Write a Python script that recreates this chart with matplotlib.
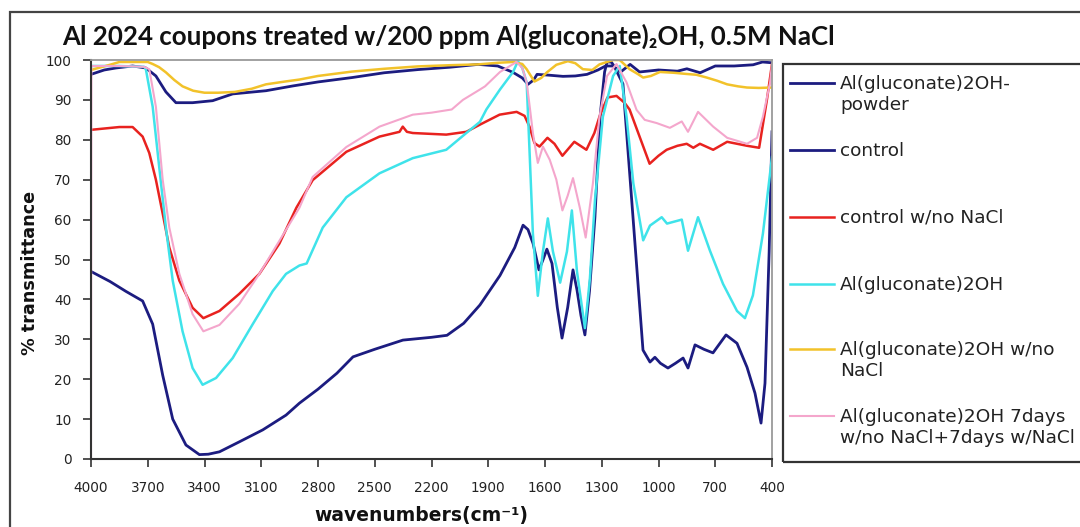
import matplotlib
matplotlib.use('Agg')
import matplotlib.pyplot as plt
from matplotlib.lines import Line2D
from matplotlib.patches import Rectangle

plt.rcParams['font.family'] = ['DejaVu Sans']

# --- data (wavenumber cm-1, % transmittance) ---
wn_powder = [4000, 3900, 3815, 3727, 3674, 3621, 3568, 3498, 3427, 3380, 3321, 3216, 3092, 2969,
             2898, 2800, 2700, 2615, 2500, 2351, 2200, 2118, 2030, 1944, 1838, 1760, 1716, 1690,
             1663, 1632, 1610, 1590, 1563, 1535, 1510, 1480, 1452, 1431, 1410, 1389, 1365, 1336,
             1309, 1285, 1272, 1250, 1235, 1188, 1135, 1082, 1045, 1019, 990, 950, 910, 870, 844,
             807, 760, 712, 643, 585, 532, 490, 458, 437, 415, 400]
t_powder = [47, 44.5, 42, 39.6, 33.8, 21, 10, 3.5, 1.1, 1.2, 1.8, 4.3, 7.3, 11,
            14, 17.5, 21.5, 25.6, 27.5, 29.8, 30.5, 31, 34, 38.6, 46, 53, 58.6, 57.5,
            54, 47.4, 50, 52.6, 49, 38, 30.3, 38, 47.4, 42.4, 36, 31.1, 42, 60.7,
            85.7, 97, 99.5, 99.5, 98.5, 94, 60.7, 27.3, 24.3, 25.5, 24, 22.8, 24, 25.3, 22.8,
            28.6, 27.5, 26.6, 31.1, 29, 23, 16.5, 9, 19, 52, 82]

wn_control = [4000, 3930, 3868, 3780, 3710, 3657, 3604, 3551, 3463, 3357, 3251, 3075, 2933, 2800,
              2620, 2450, 2271, 2100, 1954, 1850, 1769, 1720, 1690, 1660, 1642, 1580, 1505, 1440,
              1378, 1320, 1280, 1240, 1200, 1150, 1100, 1000, 900, 850, 780, 700, 600, 500, 450, 400]
t_control = [96.4, 97.5, 98, 98.5, 98, 96, 92, 89.3, 89.3, 89.8, 91.5, 92.3, 93.5, 94.5,
             95.6, 96.8, 97.6, 98.2, 98.9, 98.5, 96.9, 95.5, 93.9, 95, 96.4, 96.2, 95.9, 96,
             96.4, 97.5, 98.5, 98.5, 97, 98.9, 97, 97.5, 97.2, 97.8, 96.8, 98.5, 98.5, 98.8, 99.5, 99.3]

wn_control_nacl = [4000, 3850, 3780, 3727, 3692, 3657, 3621, 3586, 3533, 3463, 3406, 3321, 3216,
                   3110, 3004, 2914, 2828, 2650, 2475, 2369, 2352, 2330, 2299, 2122, 2016, 1944,
                   1840, 1750, 1708, 1682, 1656, 1629, 1587, 1550, 1508, 1445, 1381, 1339, 1312,
                   1270, 1222, 1180, 1153, 1100, 1047, 1000, 957, 900, 851, 816, 781, 711, 637,
                   532, 468, 427, 400]
t_control_nacl = [82.5, 83.2, 83.2, 80.8, 76.7, 70, 61.5, 53, 44.7, 37.9, 35.3, 37.1, 41.4,
                  46.4, 54, 63, 69.9, 77, 80.8, 82, 83.3, 82, 81.7, 81.3, 82, 83.8,
                  86.3, 87, 86, 83.3, 79.2, 78.3, 80.5, 79, 76, 79.5, 77.5, 81.7, 85.8,
                  90.6, 91, 89.3, 87.6, 80.8, 74, 76, 77.5, 78.5, 79, 78, 79, 77.5, 79.5,
                  78.5, 78, 90, 99]

wn_gluc = [4000, 3850, 3720, 3710, 3674, 3639, 3604, 3568, 3516, 3463, 3410, 3339, 3251, 3145,
           3039, 2969, 2898, 2860, 2775, 2650, 2475, 2299, 2122, 2016, 1944, 1910, 1838, 1769,
           1743, 1720, 1697, 1682, 1664, 1638, 1611, 1585, 1558, 1520, 1484, 1458, 1431, 1389,
           1363, 1336, 1294, 1240, 1205, 1169, 1133, 1081, 1045, 983, 955, 877, 844, 791, 728,
           659, 585, 543, 501, 448, 400]
t_gluc = [98.5, 98.5, 98.3, 97.7, 88.3, 73, 58, 44.7, 32, 22.8, 18.6, 20.3, 25.3, 33.8,
          42.1, 46.4, 48.5, 49, 58, 65.6, 71.6, 75.4, 77.5, 81.7, 84.5, 87.6, 92.6, 97,
          99.7, 98, 94.4, 77.5, 56.5, 40.9, 52, 60.3, 52, 44.2, 52, 62.3, 47, 32.8,
          45, 64.8, 85.8, 96, 98.5, 85.8, 69.1, 54.8, 58.5, 60.6, 59, 60, 52.2, 60.6, 52.2,
          43.9, 37.1, 35.3, 41, 56.5, 75.7]

wn_gluc_nacl = [4000, 3900, 3850, 3700, 3674, 3640, 3604, 3560, 3516, 3460, 3400, 3327, 3240,
                3150, 3075, 2975, 2898, 2800, 2620, 2450, 2271, 2100, 1954, 1850, 1769, 1720,
                1697, 1656, 1620, 1590, 1540, 1479, 1440, 1400, 1350, 1312, 1240, 1205, 1153,
                1110, 1081, 1040, 992, 920, 851, 800, 745, 690, 637, 580, 532, 470, 400]
t_gluc_nacl = [97.5, 98.8, 99.5, 99.5, 99, 98.2, 96.9, 95, 93.4, 92.3, 91.8, 91.8, 92,
               92.8, 93.9, 94.6, 95.1, 96, 97.1, 97.8, 98.4, 98.7, 98.9, 99.3, 99.5, 99,
               97.7, 94.6, 95.5, 96.9, 98.8, 99.7, 99.2, 97.7, 97.5, 98.9, 100, 100, 97.7,
               96.5, 95.6, 96, 97, 96.8, 96.5, 96.3, 95.6, 94.8, 93.9, 93.4, 93.1, 93, 93.1]

wn_7days = [4000, 3998, 3850, 3720, 3692, 3657, 3621, 3586, 3533, 3463, 3406, 3321, 3216, 3110,
            3004, 2898, 2828, 2650, 2475, 2299, 2200, 2093, 2034, 1944, 1917, 1838, 1750, 1720,
            1697, 1680, 1664, 1638, 1611, 1575, 1540, 1508, 1480, 1452, 1416, 1385, 1347, 1312,
            1272, 1222, 1169, 1116, 1073, 1010, 940, 877, 844, 791, 711, 637, 532, 479, 448, 410, 400]
t_7days = [0, 98.5, 98.5, 98.3, 97.7, 88.3, 70, 58, 46.4, 36.3, 32, 33.6, 38.9, 46.4,
           54.7, 63, 70.7, 78.2, 83.3, 86.3, 86.8, 87.6, 90, 92.6, 93.4, 97, 99.5, 98,
           94.4, 88, 81.7, 74.2, 78.3, 75, 70, 62.3, 66, 70.4, 63, 55.5, 69, 85.8,
           96, 99, 94.4, 87.5, 85, 84.2, 83, 84.6, 82, 87, 83.3, 80.5, 79, 80.5, 85.8, 94.4, 99]

labels = ['Al(gluconate)2OH-\npowder', 'control', 'control w/no NaCl', 'Al(gluconate)2OH',
          'Al(gluconate)2OH w/no\nNaCl', 'Al(gluconate)2OH 7days\nw/no NaCl+7days w/NaCl']
xticks = list(range(4000, 399, -300))
yticks = list(range(0, 101, 10))

series = [(wn_powder, t_powder, '#1c1c80', 2.0),
          (wn_control, t_control, '#1c1c80', 2.0),
          (wn_control_nacl, t_control_nacl, '#e8221f', 1.8),
          (wn_gluc, t_gluc, '#3fe3ea', 1.8),
          (wn_gluc_nacl, t_gluc_nacl, '#f2c22a', 1.8),
          (wn_7days, t_7days, '#f4a6cc', 1.5)]

W, H = 1080, 527
fx = lambda px: px / W          # pixel -> figure fraction
fy = lambda py: 1 - py / H

fig = plt.figure(figsize=(10.8, 5.27), dpi=100)
ax = fig.add_axes([fx(91), fy(459), (772 - 91) / W, (459 - 60) / H])

for (x, y, c, lw), lab in zip(series, labels):
    ax.plot(x, y, color=c, lw=lw, label=lab)

ax.set_xlim(4000, 400)
ax.set_ylim(0, 100)
ax.set_xticks(xticks)
ax.set_yticks(yticks)
ax.tick_params(axis='both', direction='out', length=6, width=1.2, color='#333333',
               labelsize=9.8, labelcolor='#222222')
ax.tick_params(axis='y', pad=8)
ax.tick_params(axis='x', pad=10)
for s in ['left', 'bottom']:
    ax.spines[s].set_color('#333333')
    ax.spines[s].set_linewidth(1.5)
for s in ['top', 'right']:
    ax.spines[s].set_color('#9a9a9a')
    ax.spines[s].set_linewidth(1.3)

# outer chart frame (cut by the image edge)
fig.add_artist(Rectangle((fx(10), fy(560)), fx(1120), (560 - 12) / H, transform=fig.transFigure,
                         fill=False, ec='#444444', lw=1.6))

fig.text(fx(62), fy(45), 'Al 2024 coupons treated w/200 ppm Al(gluconate)\u2082OH, 0.5M NaCl',
         family=['Lato', 'DejaVu Sans'], weight='bold', fontsize=18.6, ha='left', va='baseline',
         color='#111111')
fig.text(fx(30), fy(273), '% transmittance', rotation=90, weight='bold', fontsize=12.7,
         ha='center', va='center', color='#111111')
fig.text(fx(421), fy(516), 'wavenumbers(cm\u207b\u00b9)', weight='bold', fontsize=13.5,
         ha='center', va='center', color='#111111')

# legend box, drawn by hand so the entries sit evenly like the original
fig.add_artist(Rectangle((fx(783), fy(462)), fx(400), (462 - 64) / H, transform=fig.transFigure,
                         fill=False, ec='#333333', lw=1.6))
entry_y = [83, 150, 217, 284, 349, 416]
for line, ly in zip(ax.get_lines(), entry_y):
    fig.add_artist(Line2D([fx(790), fx(834)], [fy(ly), fy(ly)], transform=fig.transFigure,
                          color=line.get_color(), lw=line.get_linewidth()))
    fig.text(fx(840), fy(ly - 8), line.get_label(), fontsize=13.3, ha='left', va='top',
             color='#222222')

fig.savefig('out.png', dpi=100)
